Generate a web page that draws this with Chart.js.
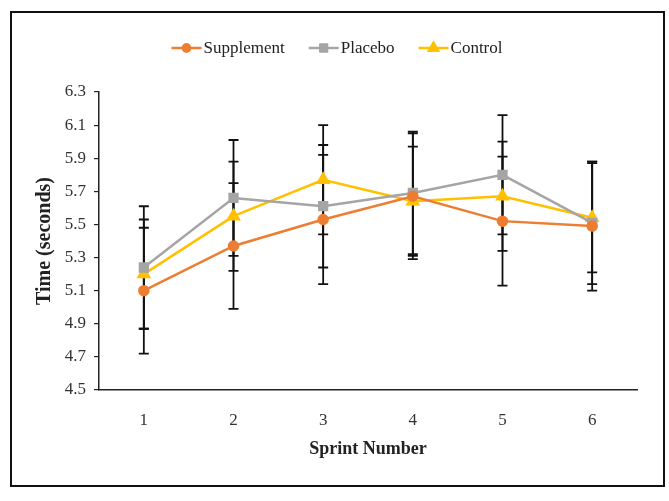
<!DOCTYPE html>
<html>
<head>
<meta charset="utf-8">
<script src="https://cdn.jsdelivr.net/npm/chart.js@4"></script>
<style>
    html, body { margin: 0; padding: 0; background: #fff; }
    #wrap { position: relative; width: 669px; height: 501px; }
    #frame {
        position: absolute; left: 10px; top: 11px; width: 651px; height: 472px;
        border: 2px solid #111; pointer-events: none;
    }
</style>
</head>
<body>
<div id="wrap">
    <canvas id="sprintChart" width="669" height="501"></canvas>
    <div id="frame"></div>
</div>
<script>
// data
const sprints = ['1', '2', '3', '4', '5', '6'];
const supplement = [5.10, 5.37, 5.53, 5.67, 5.52, 5.49];
const placebo = [5.24, 5.66, 5.61, 5.69, 5.80, 5.51];
const control = [5.20, 5.55, 5.77, 5.64, 5.67, 5.54];
// error bars (+/-)
const supplementErr = [0.38, 0.38, 0.39, 0.38, 0.39, 0.39];
const placeboErr = [0.37, 0.35, 0.37, 0.37, 0.36, 0.37];
const controlErr = [0.33, 0.33, 0.33, 0.33, 0.33, 0.33];
const yMin = 4.5, yMax = 6.3, yStep = 0.2;

const serif = '"Liberation Serif", "Times New Roman", serif';

// draw error bars under the lines
const errorBars = {
    id: 'errorBars',
    beforeDatasetsDraw(chart) {
        const ctx = chart.ctx;
        const y = chart.scales.y;
        ctx.save();
        ctx.strokeStyle = '#111';
        ctx.lineWidth = 1.8;
        chart.data.datasets.forEach((ds, i) => {
            const meta = chart.getDatasetMeta(i);
            meta.data.forEach((pt, j) => {
                const v = ds.data[j], e = ds.errors[j];
                const top = y.getPixelForValue(v + e);
                const bot = y.getPixelForValue(v - e);
                ctx.beginPath();
                ctx.moveTo(pt.x, top); ctx.lineTo(pt.x, bot);
                ctx.moveTo(pt.x - 5, top); ctx.lineTo(pt.x + 5, top);
                ctx.moveTo(pt.x - 5, bot); ctx.lineTo(pt.x + 5, bot);
                ctx.stroke();
            });
        });
        ctx.restore();
    }
};

// excel style legend: short line with marker, then label
const lineLegend = {
    id: 'lineLegend',
    afterDraw(chart) {
        const ctx = chart.ctx;
        const cy = 48, lineLen = 30, gap = 2, spacing = 24;
        ctx.save();
        ctx.font = '17px ' + serif;
        ctx.textBaseline = 'middle';
        const items = chart.data.datasets.map(ds => ({ ds, w: ctx.measureText(ds.label).width }));
        const total = items.reduce((s, it) => s + lineLen + gap + it.w, 0) + spacing * (items.length - 1);
        let x = 337 - total / 2;
        items.forEach(({ ds, w }) => {
            ctx.strokeStyle = ds.borderColor;
            ctx.lineWidth = 2.5;
            ctx.beginPath();
            ctx.moveTo(x, cy); ctx.lineTo(x + lineLen, cy);
            ctx.stroke();
            Chart.helpers.drawPoint(ctx, {
                pointStyle: ds.pointStyle, radius: ds.pointRadius - 1, borderWidth: 1,
                rotation: 0
            }, x + lineLen / 2, cy);
            ctx.fillStyle = ds.pointBackgroundColor;
            ctx.strokeStyle = ds.borderColor;
            ctx.fill();
            ctx.stroke();
            ctx.fillStyle = '#222';
            ctx.fillText(ds.label, x + lineLen + gap, cy + 1);
            x += lineLen + gap + w + spacing;
        });
        ctx.restore();
    }
};

function makeSeries(label, data, errors, color, style, radius) {
    return {
        label: label,
        data: data,
        errors: errors,
        borderColor: color,
        backgroundColor: color,
        pointBackgroundColor: color,
        pointBorderColor: color,
        pointStyle: style,
        pointRadius: radius,
        borderWidth: 2.5,
        tension: 0
    };
}

new Chart(document.getElementById('sprintChart'), {
    type: 'line',
    data: {
        labels: sprints,
        datasets: [
            makeSeries('Supplement', supplement, supplementErr, '#ED7D31', 'circle', 4.5),
            makeSeries('Placebo', placebo, placeboErr, '#A5A5A5', 'rect', 5.5),
            makeSeries('Control', control, controlErr, '#FFC000', 'triangle', 6)
        ]
    },
    options: {
        responsive: false,
        animation: false,
        layout: { padding: { top: 92, right: 32, bottom: 0, left: 0 } },
        plugins: {
            legend: { display: false },
            tooltip: { enabled: false }
        },
        scales: {
            x: {
                offset: true,
                grid: { display: false, drawTicks: false },
                border: { display: true, color: '#222', width: 1.5 },
                ticks: { color: '#333', padding: 20, font: { family: serif, size: 17 } },
                title: {
                    display: true, text: 'Sprint Number', color: '#222',
                    font: { family: serif, size: 18, weight: 'bold' },
                    padding: { top: 0, bottom: 41 }
                },
                afterFit(scale) { scale.height = 111; }
            },
            y: {
                min: yMin,
                max: yMax,
                grid: { display: true, drawOnChartArea: false, drawTicks: true, tickLength: 5, color: '#222', lineWidth: 1.2 },
                border: { display: true, color: '#222', width: 1.5 },
                ticks: {
                    stepSize: yStep, color: '#333', padding: 8,
                    font: { family: serif, size: 17 },
                    callback: v => Number(v).toFixed(1)
                },
                title: {
                    display: true, text: 'Time (seconds)', color: '#222',
                    font: { family: serif, size: 20, weight: 'bold' },
                    padding: { top: 33, bottom: 0 }
                },
                afterFit(scale) { scale.width = 99; }
            }
        }
    },
    plugins: [errorBars, lineLegend]
});
</script>
</body>
</html>
